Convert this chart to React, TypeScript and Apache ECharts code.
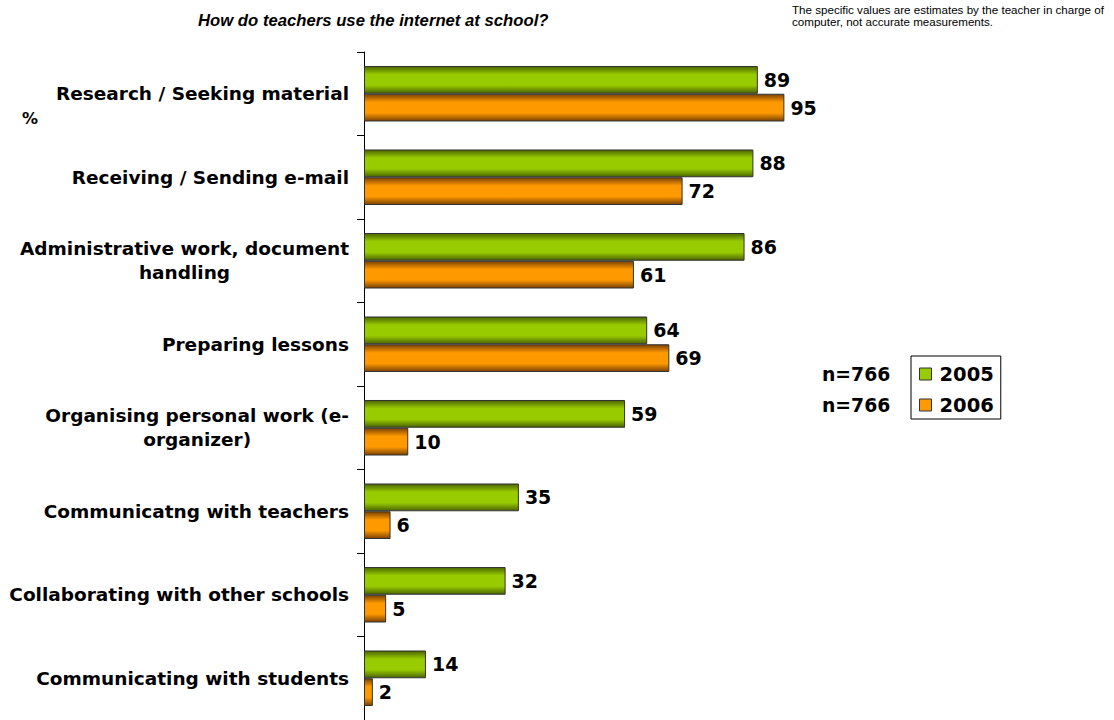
import React, { useEffect, useRef } from "react";
import * as echarts from "echarts";

const categories = [
  "Research / Seeking material",
  "Receiving / Sending e-mail",
  "Administrative work, document\nhandling",
  "Preparing lessons",
  "Organising personal work (e-\norganizer)",
  "Communicatng with teachers",
  "Collaborating with other schools",
  "Communicating with students",
];
const values2005 = [89, 88, 86, 64, 59, 35, 32, 14];
const values2006 = [95, 72, 61, 69, 10, 6, 5, 2];
const seriesNames = ["2005", "2006"];
const sampleSizes = ["n=766", "n=766"];

const FONT = "DejaVu Sans";

const grad = (dark: string, bright: string) =>
  new echarts.graphic.LinearGradient(0, 0, 0, 1, [
    { offset: 0, color: dark },
    { offset: 0.3, color: bright },
    { offset: 0.7, color: bright },
    { offset: 1, color: dark },
  ]);

export default function App() {
  const ref = useRef<HTMLDivElement>(null);
  useEffect(() => {
    if (!ref.current) return;
    const chart = echarts.init(ref.current, null, { renderer: "svg" });
    const labelStyle = {
      show: true,
      position: "right",
      distance: 6,
      color: "#000",
      fontFamily: FONT,
      fontWeight: "bold",
      fontSize: 19,
    };
    chart.setOption({
      animation: false,
      backgroundColor: "#fff",
      title: {
        text: "How do teachers use the internet at school?",
        left: 193,
        top: 7,
        textStyle: {
          fontFamily: "Liberation Sans",
          fontWeight: "bold",
          fontStyle: "italic",
          fontSize: 16.7,
          color: "#000",
        },
      },
      legend: {
        orient: "vertical",
        left: 911,
        top: 356,
        data: [
          { name: seriesNames[0], itemStyle: { color: "#99cc00", borderColor: "#333", borderWidth: 1 } },
          { name: seriesNames[1], itemStyle: { color: "#ff9900", borderColor: "#333", borderWidth: 1 } },
        ],
        icon: "rect",
        itemWidth: 12,
        itemHeight: 12,
        itemGap: 11,
        padding: [8, 7, 4, 8],
        borderColor: "#000",
        borderWidth: 1,
        textStyle: {
          fontFamily: FONT,
          fontWeight: "bold",
          fontSize: 19.5,
          color: "#000",
          lineHeight: 20,
          padding: [0, 0, 0, 3],
        },
        selectedMode: false,
      },
      grid: {
        left: 364,
        top: 52,
        width: 442.5,
        height: 673.5,
        containLabel: false,
      },
      xAxis: {
        type: "value",
        min: 0,
        max: 100,
        show: false,
        splitLine: { show: false },
      },
      yAxis: {
        type: "category",
        data: categories,
        inverse: true,
        axisLine: { show: true, lineStyle: { color: "#000", width: 1 } },
        axisTick: { show: true, length: 7, lineStyle: { color: "#000" } },
        axisLabel: {
          margin: 15,
          color: "#000",
          fontFamily: FONT,
          fontWeight: "bold",
          fontSize: 18.5,
          lineHeight: 24,
          formatter: (v: string) =>
            v
              .split("\n")
              .map((l) => `{c|${l}}`)
              .join("\n"),
          rich: {
            c: {
              align: "center",
              color: "#000",
              fontFamily: FONT,
              fontWeight: "bold",
              fontSize: 18.5,
              lineHeight: 24,
            },
          },
        },
      },
      series: [
        {
          name: seriesNames[0],
          type: "bar",
          data: values2005,
          barGap: "0%",
          barCategoryGap: "33.5%",
          itemStyle: {
            color: grad("#4a6400", "#99cc00"),
            borderColor: "#333",
            borderWidth: 1,
          },
          label: labelStyle,
        },
        {
          name: seriesNames[1],
          type: "bar",
          data: values2006,
          barGap: "0%",
          barCategoryGap: "33.5%",
          itemStyle: {
            color: grad("#7a4200", "#ff9900"),
            borderColor: "#333",
            borderWidth: 1,
          },
          label: labelStyle,
        },
      ],
      graphic: [
        {
          type: "text",
          left: 792,
          top: 3,
          style: {
            text: "The specific values are estimates by the teacher in charge of\ncomputer, not accurate measurements.",
            fontFamily: "Liberation Sans",
            fontSize: 11.6,
            lineHeight: 12,
            fill: "#000",
          },
        },
        {
          type: "text",
          x: 822,
          y: 374.5,
          style: {
            text: sampleSizes[0],
            fontFamily: FONT,
            fontWeight: "bold",
            fontSize: 18.8,
            fill: "#000",
            verticalAlign: "middle",
          },
        },
        {
          type: "text",
          x: 822,
          y: 405.5,
          style: {
            text: sampleSizes[1],
            fontFamily: FONT,
            fontWeight: "bold",
            fontSize: 18.8,
            fill: "#000",
            verticalAlign: "middle",
          },
        },
        {
          type: "text",
          x: 22,
          y: 118,
          style: {
            text: "%",
            fontFamily: FONT,
            fontWeight: "bold",
            fontSize: 16,
            fill: "#000",
            verticalAlign: "middle",
          },
        },
      ],
    });
    return () => chart.dispose();
  }, []);
  return (
    <div
      ref={ref}
      style={{ position: "absolute", left: 0, top: 0, width: 1114, height: 720 }}
    />
  );
}
